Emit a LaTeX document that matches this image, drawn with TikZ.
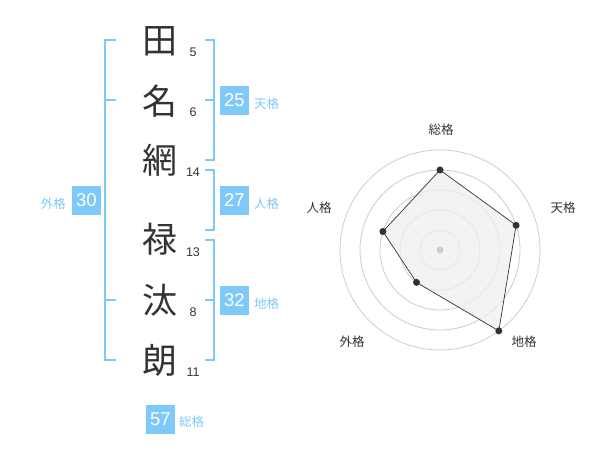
\documentclass[tikz,border=0pt]{standalone}
\usepackage{fontspec}
\setmainfont{Liberation Sans}
\newfontfamily\cjk{Noto Sans CJK JP}
\definecolor{lblue}{RGB}{127,201,250}
\definecolor{dark}{RGB}{51,51,51}
\definecolor{ring}{RGB}{204,204,204}
\definecolor{area}{RGB}{239,239,239}
\tikzset{
  kanji/.style={inner sep=0pt, font=\cjk\fontsize{35}{35}\selectfont, text=dark},
  stroke/.style={inner sep=0pt, font=\fontsize{12.5}{12.5}\selectfont, text=dark},
  numbox/.style={fill=lblue, minimum size=29pt, inner sep=0pt, text=white, font=\fontsize{18.5}{18.5}\selectfont},
  kaku/.style={inner sep=0pt, text=lblue, font=\cjk\fontsize{12.5}{12.5}\selectfont},
  bracket/.style={draw=lblue, line width=2pt},
  rlabel/.style={inner sep=0pt, text=dark, font=\cjk\fontsize{12.5}{12.5}\selectfont},
  ringline/.style={draw=ring, line width=0.8pt},
  vdot/.style={circle, fill=dark, inner sep=0pt, minimum size=7pt},
}
\begin{document}
\begin{tikzpicture}[x=1pt,y=-1pt]
\useasboundingbox (0,0) rectangle (600,470);
% characters
\node[kanji] (c1) at (160,41) {田};
\node[kanji] (c2) at (160,101) {名};
\node[kanji] (c3) at (160,160) {網};
\node[kanji] (c4) at (160,239) {禄};
\node[kanji] (c5) at (160,300) {汰};
\node[kanji] (c6) at (160,360) {朗};
% stroke counts
\node[stroke] (s1) at (193,52.5) {5};
\node[stroke] (s2) at (193,112.5) {6};
\node[stroke] (s3) at (193,172.5) {14};
\node[stroke] (s4) at (193,252.5) {13};
\node[stroke] (s5) at (193,312.5) {8};
\node[stroke] (s6) at (193,372.5) {11};
% left bracket (gaikaku)
\draw[bracket] (116,40) -- (105,40) -- (105,360) -- (116,360);
\draw[bracket] (105,100) -- (116,100);
\draw[bracket] (105,300) -- (116,300);
% right brackets
\draw[bracket] (205,40) -- (214,40) -- (214,160) -- (205,160);
\draw[bracket] (205,100) -- (214,100);
\draw[bracket] (205,170) -- (214,170) -- (214,230) -- (205,230);
\draw[bracket] (205,240) -- (214,240) -- (214,360) -- (205,360);
\draw[bracket] (205,300) -- (214,300);
% boxes
\node[numbox] (b25) at (234.5,100.5) {25};
\node[kaku, anchor=west] (l25) at (254,104) {天格};
\node[numbox] (b27) at (234.5,200.5) {27};
\node[kaku, anchor=west] (l27) at (254,204) {人格};
\node[numbox] (b32) at (234.5,300.5) {32};
\node[kaku, anchor=west] (l32) at (254,304) {地格};
\node[numbox] (b30) at (86.5,200.5) {30};
\node[kaku, anchor=east] (l30) at (66,204) {外格};
\node[numbox] (b57) at (160.5,419.5) {57};
\node[kaku, anchor=west] (l57) at (179,422) {総格};
% radar
\foreach \r in {20,40,60,80,100} \draw[ringline] (440,250) circle (\r);
\coordinate (pS) at (440,170);
\coordinate (pT) at (516.1,225.3);
\coordinate (pC) at (498.8,330.9);
\coordinate (pG) at (416.5,282.4);
\coordinate (pJ) at (382.9,231.5);
\draw[fill=area, fill opacity=0.75, draw=dark, line width=0.7pt] (pS) -- (pT) -- (pC) -- (pG) -- (pJ) -- cycle;
\node[circle, fill=ring, inner sep=0pt, minimum size=7pt] (ctr) at (440,250) {};
\foreach \p in {pS,pT,pC,pG,pJ} \node[vdot] at (\p) {};
\node[rlabel] (rS) at (441,130) {総格};
\node[rlabel] (rT) at (563,208) {天格};
\node[rlabel] (rC) at (524,342) {地格};
\node[rlabel] (rG) at (352,342) {外格};
\node[rlabel] (rJ) at (319,208) {人格};
\end{tikzpicture}
\end{document}
